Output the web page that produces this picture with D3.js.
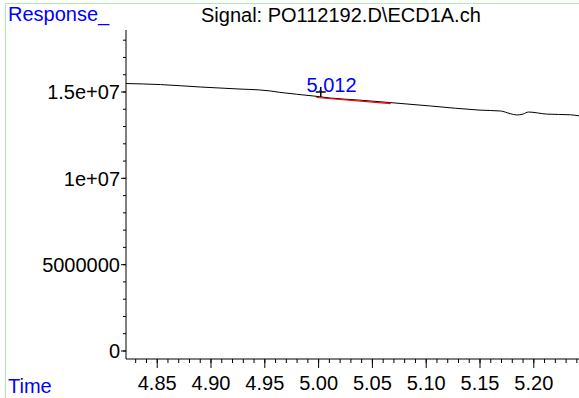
<!DOCTYPE html>
<html><head><meta charset="utf-8">
<script src="https://cdn.jsdelivr.net/npm/d3@7"></script>
<style>body{margin:0;background:#fff}svg{display:block}text{font-family:"Liberation Sans",Arial,sans-serif}</style>
</head><body>
<script>
const title = "Signal: PO112192.D\\ECD1A.ch";
const yLabel = "Response_";
const xLabel = "Time";
const times  = [4.821,4.853,4.890,4.927,4.945,4.955,4.964,4.995,5.011,5.038,5.066,5.104,5.150,5.169,5.178,5.184,5.190,5.195,5.212,5.234,5.242];
const values = [15490000,15430000,15290000,15170000,15120000,15060000,14980000,14770000,14650000,14530000,14390000,14190000,13950000,13900000,13750000,13670000,13720000,13840000,13720000,13680000,13620000];
const baseTimes  = [4.998,5.067];
const baseValues = [14680000,14330000];
const peakTime = 5.012, peakLabel = "5.012";
const markTime = 5.002, markValue = 15000000;
const xMajor = [4.85,4.90,4.95,5.00,5.05,5.10,5.15,5.20];
const yMajor = [0,5000000,10000000,15000000];
const yMajorLabels = ["0","5000000","1e+07","1.5e+07"];

const W=579,H=398;
const svg=d3.select("body").append("svg").attr("width",W).attr("height",H);
const x=d3.scaleLinear().domain([4.821,5.242]).range([126,579]);
const y=d3.scaleLinear().domain([0,15000000]).range([351,92]);
const yTop=30, axisY=359;

// green frame
svg.append("line").attr("x1",5.5).attr("x2",5.5).attr("y1",3.5).attr("y2",H).attr("stroke","#a8f0a8");
svg.append("line").attr("x1",5.5).attr("x2",W).attr("y1",3.5).attr("y2",3.5).attr("stroke","#a8f0a8");

const fs=20;
svg.append("text").attr("x",8).attr("y",21).attr("fill","#0000ff").attr("font-size",fs).text(yLabel);
svg.append("text").attr("x",8).attr("y",393).attr("fill","#0000ff").attr("font-size",fs).text(xLabel);
svg.append("text").attr("x",201).attr("y",22).attr("fill","#000").attr("font-size",fs).text(title);

// y axis
const yAxisG=svg.append("g").attr("transform","translate(126,0)");
yAxisG.append("line").attr("x1",0).attr("x2",0).attr("y1",yTop).attr("y2",axisY).attr("stroke","#000");
const yMinor=d3.range(0,19000000,1000000).filter(v=>y(v)>=yTop);
yAxisG.selectAll(".ym").data(yMinor).join("line").attr("x1",-3).attr("x2",0).attr("y1",d=>y(d)).attr("y2",d=>y(d)).attr("stroke","#000");
yAxisG.selectAll(".yM").data(yMajor).join("line").attr("x1",-5).attr("x2",0).attr("y1",d=>y(d)).attr("y2",d=>y(d)).attr("stroke","#000");
yAxisG.selectAll(".yl").data(yMajor).join("text").attr("x",-6).attr("y",d=>y(d)).attr("dy","0.36em").attr("text-anchor","end").attr("font-size",fs).text((d,i)=>yMajorLabels[i]);

// x axis
const xAxisG=svg.append("g").attr("transform",`translate(0,${axisY})`);
xAxisG.append("line").attr("x1",126).attr("x2",W).attr("y1",0).attr("y2",0).attr("stroke","#000");
const xMinor=d3.range(4.83,5.245,0.01).filter(t=>x(t)>=126&&x(t)<=W);
xAxisG.selectAll(".xm").data(xMinor).join("line").attr("x1",d=>x(d)).attr("x2",d=>x(d)).attr("y1",0).attr("y2",4).attr("stroke","#000");
xAxisG.selectAll(".xM").data(xMajor).join("line").attr("x1",d=>x(d)).attr("x2",d=>x(d)).attr("y1",0).attr("y2",9).attr("stroke","#000");
xAxisG.selectAll(".xl").data(xMajor).join("text").attr("x",d=>x(d)).attr("y",31).attr("text-anchor","middle").attr("font-size",fs).text(d=>d.toFixed(2));

// signal
const line=d3.line().x(d=>x(d[0])).y(d=>y(d[1])).curve(d3.curveMonotoneX);
svg.append("path").datum(times.map((t,i)=>[t,values[i]])).attr("d",line).attr("fill","none").attr("stroke","#000").attr("stroke-width",1);
svg.append("path").datum(baseTimes.map((t,i)=>[t,baseValues[i]])).attr("d",d3.line().x(d=>x(d[0])).y(d=>y(d[1]))).attr("fill","none").attr("stroke","#ff0000").attr("stroke-width",1.2);

// marker
const mx=x(markTime),my=y(markValue);
svg.append("line").attr("x1",mx-5).attr("x2",mx+5).attr("y1",my).attr("y2",my).attr("stroke","#000").attr("stroke-width",1.5);
svg.append("line").attr("x1",mx).attr("x2",mx).attr("y1",my-5).attr("y2",my+5).attr("stroke","#000").attr("stroke-width",1.5);
svg.append("text").attr("x",x(peakTime)).attr("y",92).attr("text-anchor","middle").attr("fill","#0000ff").attr("font-size",fs).text(peakLabel);
</script>
</body></html>
